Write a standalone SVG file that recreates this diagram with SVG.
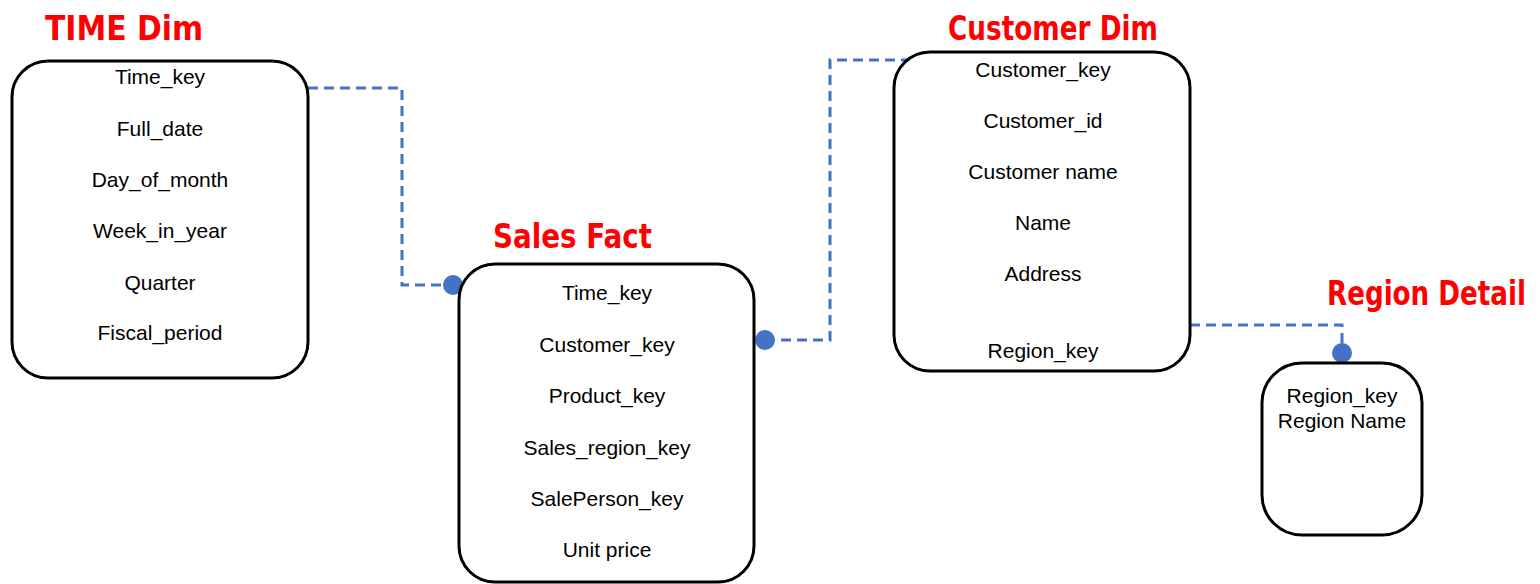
<svg xmlns="http://www.w3.org/2000/svg" width="1540" height="584" viewBox="0 0 1540 584">
<style>
.box{fill:#fff;stroke:#000;stroke-width:3}
.f{font-family:"Liberation Sans",Arial,sans-serif;font-size:21px;fill:#000;text-anchor:middle}
.t{font-family:"DejaVu Sans",sans-serif;font-weight:bold;font-size:34px;fill:#f00}
.c{fill:none;stroke:#4472C4;stroke-width:3;stroke-dasharray:10 6}
.d{fill:#4472C4}
</style>
<rect width="1540" height="584" fill="#fff"/>
<g id="connectors">
<path class="c" d="M308 88 H402 V285 H453"/>
<path class="c" d="M765 340 H830 V60 H908"/>
<path class="c" d="M1190 325 H1342 V345"/>
<circle class="d" cx="453" cy="285" r="10"/>
<circle class="d" cx="765" cy="340" r="10"/>
<circle class="d" cx="1342" cy="353" r="10"/>
</g>
<g id="time-dim">
<text class="t" x="45" y="40" textLength="158" lengthAdjust="spacingAndGlyphs">TIME Dim</text>
<rect class="box" x="12" y="61" width="296" height="317" rx="36"/>
<text class="f" x="160" y="84">Time_key</text>
<text class="f" x="160" y="136">Full_date</text>
<text class="f" x="160" y="187">Day_of_month</text>
<text class="f" x="160" y="238">Week_in_year</text>
<text class="f" x="160" y="290">Quarter</text>
<text class="f" x="160" y="340">Fiscal_period</text>
</g>
<g id="sales-fact">
<text class="t" x="493" y="248" textLength="159" lengthAdjust="spacingAndGlyphs">Sales Fact</text>
<rect class="box" x="459" y="264" width="295" height="318" rx="36"/>
<text class="f" x="607" y="300">Time_key</text>
<text class="f" x="607" y="352">Customer_key</text>
<text class="f" x="607" y="403">Product_key</text>
<text class="f" x="607" y="455">Sales_region_key</text>
<text class="f" x="607" y="506">SalePerson_key</text>
<text class="f" x="607" y="557">Unit price</text>
</g>
<g id="customer-dim">
<text class="t" x="948" y="40" textLength="210" lengthAdjust="spacingAndGlyphs">Customer Dim</text>
<rect class="box" x="894" y="52" width="296" height="319" rx="36"/>
<text class="f" x="1043" y="77">Customer_key</text>
<text class="f" x="1043" y="128">Customer_id</text>
<text class="f" x="1043" y="179">Customer name</text>
<text class="f" x="1043" y="230">Name</text>
<text class="f" x="1043" y="281">Address</text>
<text class="f" x="1043" y="358">Region_key</text>
</g>
<g id="region-detail">
<text class="t" transform="translate(1327 305) scale(0.77 1)" x="0" y="0">Region Detail</text>
<rect class="box" x="1262" y="363" width="160" height="172" rx="40"/>
<text class="f" x="1342" y="403">Region_key</text>
<text class="f" x="1342" y="428">Region Name</text>
</g>
</svg>
